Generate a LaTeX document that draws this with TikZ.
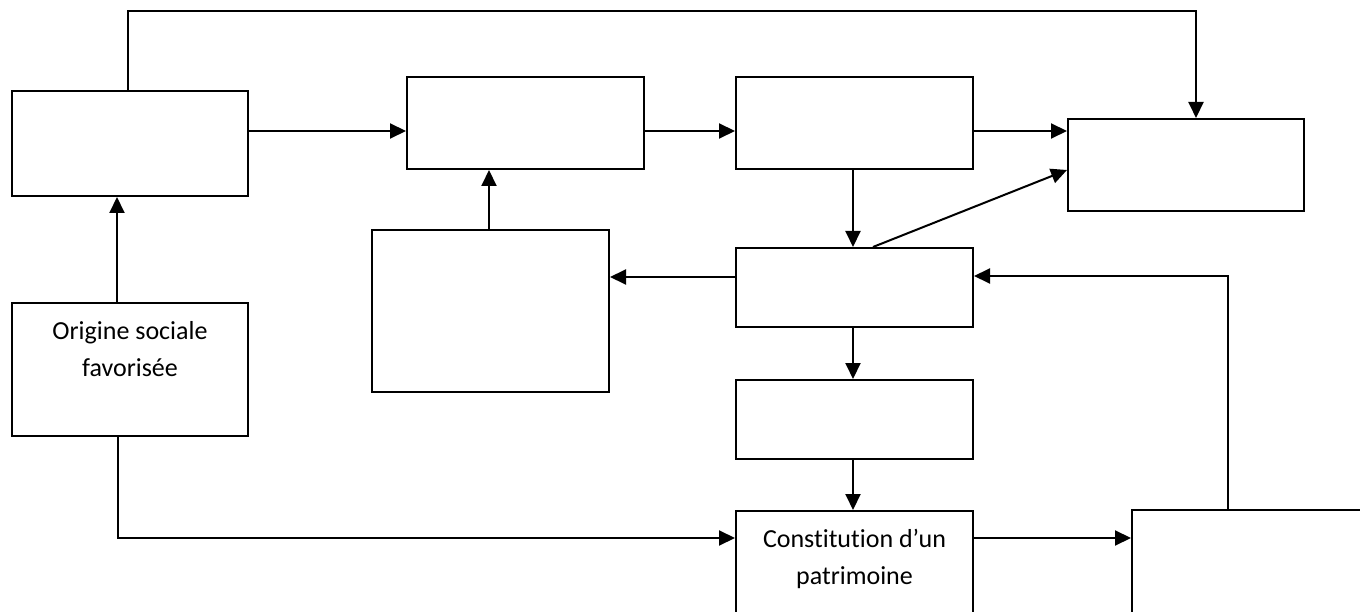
\documentclass[tikz,border=0pt]{standalone}
\usepackage{fontspec}
\setmainfont[Ligatures=NoCommon]{Carlito}
\usetikzlibrary{arrows.meta}
\begin{document}
\begin{tikzpicture}[x=1pt,y=-1pt,
  box/.style={draw, line width=2pt, rectangle, inner sep=0pt},
  arr/.style={line width=2pt, -{Triangle[length=16pt,width=15pt]}},
  lbl/.style={font=\fontsize{26}{37}\selectfont, align=center}]
\useasboundingbox (0,0) rectangle (1360,612);
\clip (0,0) rectangle (1360,612);
% boxes
\node[box, minimum width=236pt, minimum height=105pt] (A) at (130,143.5) {};
\node[box, minimum width=237pt, minimum height=92pt] (B) at (525.5,123) {};
\node[box, minimum width=237pt, minimum height=92pt] (C) at (854.5,123) {};
\node[box, minimum width=236pt, minimum height=92pt] (D) at (1186,165) {};
\node[box, minimum width=237pt, minimum height=162pt] (E) at (490.5,311) {};
\node[box, minimum width=237pt, minimum height=79pt] (F) at (854.5,287.5) {};
\node[box, minimum width=237pt, minimum height=79pt] (G) at (854.5,419.5) {};
\node[box, minimum width=236pt, minimum height=133pt] (O) at (130,369.5) {};
\node[box, minimum width=237pt, minimum height=140pt] (K) at (854.5,581) {};
\node[box, minimum width=268pt, minimum height=140pt] (H) at (1266,580) {};
% texts
\node[lbl] (otxt) at (130,349) {Origine sociale\\favorisée};
\node[lbl] (ktxt) at (854.5,559) {Constitution d’un\\patrimoine};
% connectors
\draw[arr] (A.north -| 128,0) -- (128,11) -| (D.north -| 1196,0);
\draw[arr] (A.east |- 0,131) -- (B.west |- 0,131);
\draw[arr] (B.east |- 0,131) -- (C.west |- 0,131);
\draw[arr] (C.east |- 0,131) -- (D.west |- 0,131);
\draw[arr] (C.south -| 853,0) -- (F.north -| 853,0);
\draw[arr] (F.north -| 873,0) -- (D.west |- 0,170);
\draw[arr] (F.west |- 0,277) -- (E.east |- 0,277);
\draw[arr] (E.north -| 489,0) -- (B.south -| 489,0);
\draw[arr] (O.north -| 117,0) -- (A.south -| 117,0);
\draw[arr] (O.south -| 118,0) |- (K.west |- 0,538);
\draw[arr] (F.south -| 853,0) -- (G.north -| 853,0);
\draw[arr] (G.south -| 853,0) -- (K.north -| 853,0);
\draw[arr] (K.east |- 0,538) -- (H.west |- 0,538);
\draw[arr] (H.north -| 1228,0) |- (F.east |- 0,276);
\end{tikzpicture}
\end{document}
